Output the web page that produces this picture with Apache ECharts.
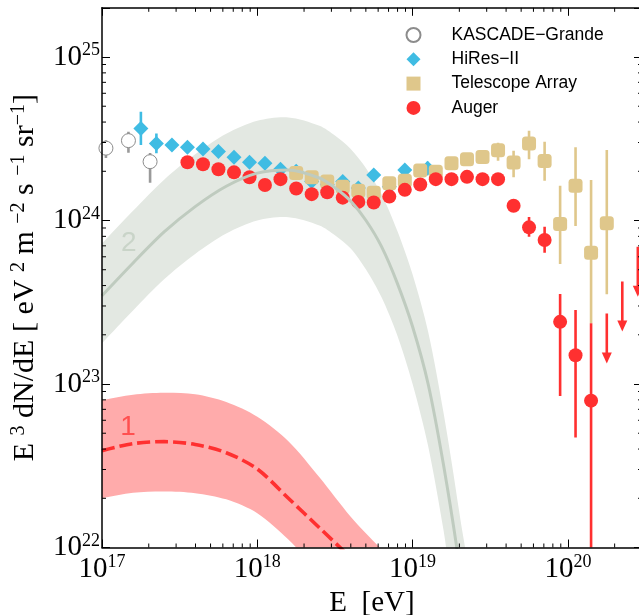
<!DOCTYPE html>
<html>
<head>
<meta charset="utf-8">
<script src="https://cdn.jsdelivr.net/npm/echarts@6/dist/echarts.min.js"></script>
<style>
  html, body { margin: 0; padding: 0; background: #fff; }
  #chart { width: 639px; height: 615px; }
</style>
</head>
<body>
<div id="chart"></div>
<script>
// ---- measured spectra: E [eV], E^3 dN/dE [eV^2 m^-2 s^-1 sr^-1] ----
const kascadeE  = [1.06e17, 1.48e17, 2.04e17];
const kascadeF  = [2.77e24, 3.08e24, 2.29e24];
const kascadeLo = [2.41e24, 2.60e24, 1.70e24];
const kascadeHi = [3.10e24, 3.49e24, 2.59e24];

const hiresE  = [1.78e17, 2.24e17, 2.82e17, 3.55e17, 4.47e17, 5.62e17, 7.08e17, 8.91e17,
                 1.12e18, 1.41e18, 1.78e18, 2.24e18, 2.82e18, 3.55e18, 4.47e18, 5.62e18,
                 7.08e18, 8.91e18, 1.25e19];
const hiresF  = [3.66e24, 2.96e24, 2.90e24, 2.81e24, 2.74e24, 2.64e24, 2.44e24, 2.27e24,
                 2.24e24, 2.06e24, 2.00e24, 1.73e24, 1.66e24, 1.73e24, 1.58e24, 1.90e24,
                 1.61e24, 2.04e24, 2.09e24];
const hiresLo = [2.90e24, 2.58e24, null, null, null, null, null, null,
                 null, null, null, null, null, null, null, null,
                 null, null, 1.95e24];
const hiresHi = [4.63e24, 3.41e24, null, null, null, null, null, null,
                 null, null, null, null, null, null, null, null,
                 null, null, 2.29e24];

const taE  = [1.78e18, 2.24e18, 2.82e18, 3.55e18, 4.47e18, 5.62e18, 7.08e18, 8.91e18,
              1.12e19, 1.41e19, 1.78e19, 2.24e19, 2.82e19, 3.55e19, 4.47e19, 5.62e19,
              7.08e19, 8.91e19, 1.12e20, 1.41e20, 1.78e20];
const taF  = [1.95e24, 1.84e24, 1.73e24, 1.61e24, 1.52e24, 1.48e24, 1.69e24, 1.75e24,
              2.02e24, 1.99e24, 2.24e24, 2.37e24, 2.45e24, 2.69e24, 2.26e24, 2.96e24,
              2.31e24, 9.53e23, 1.63e24, 6.35e23, 9.62e23];
const taLo = [null, null, null, null, null, null, null, null,
              1.92e24, 1.90e24, 2.13e24, 2.24e24, 2.22e24, 2.32e24, 1.84e24, 2.37e24,
              1.75e24, 5.42e23, 9.25e23, 2.35e23, 3.54e23];
const taHi = [null, null, null, null, null, null, null, null,
              2.12e24, 2.09e24, 2.36e24, 2.51e24, 2.69e24, 2.99e24, 2.67e24, 3.54e24,
              3.03e24, 1.63e24, 2.81e24, 1.77e24, 2.70e24];

const augerE  = [3.55e17, 4.47e17, 5.62e17, 7.08e17, 8.91e17, 1.12e18, 1.41e18, 1.78e18,
                 2.24e18, 2.82e18, 3.55e18, 4.47e18, 5.62e18, 7.08e18, 8.91e18, 1.12e19,
                 1.41e19, 1.78e19, 2.24e19, 2.82e19, 3.55e19, 4.47e19, 5.62e19, 7.08e19,
                 8.91e19, 1.12e20, 1.41e20];
const augerF  = [2.27e24, 2.21e24, 2.06e24, 1.97e24, 1.84e24, 1.65e24, 1.79e24, 1.57e24,
                 1.45e24, 1.49e24, 1.38e24, 1.30e24, 1.29e24, 1.40e24, 1.54e24, 1.66e24,
                 1.79e24, 1.79e24, 1.85e24, 1.79e24, 1.79e24, 1.23e24, 9.08e23, 7.60e23,
                 2.40e23, 1.50e23, 7.91e22];
const augerLo = [null, null, null, null, null, null, null, null,
                 null, null, null, null, null, null, null, null,
                 null, null, null, null, null, null, 7.96e23, 6.35e23,
                 8.45e22, 4.70e22, 1.0e21];
const augerHi = [null, null, null, null, null, null, null, null,
                 null, null, null, null, null, null, null, null,
                 null, null, null, null, null, null, 1.05e24, 9.16e23,
                 3.55e23, 2.84e23, 2.35e23];

// Auger upper limits
const augerUlE = [1.78e20, 2.24e20, 2.82e20];
const augerUlF = [2.70e23, 4.23e23, 6.92e23];

// ---- model 1 (light component): central curve and uncertainty band ----
const m1E   = [1.0e17, 1.585e17, 2.512e17, 3.981e17, 6.31e17, 1.0e18, 1.585e18, 2.512e18, 3.981e18, 5.012e18];
const m1F   = [3.91e22, 4.32e22, 4.44e22, 4.27e22, 3.80e22, 3.02e22, 2.0e22, 1.32e22, 8.7e21, 7.1e21];
const m1UpE = [0.9e17, 1.0e17, 1.585e17, 2.512e17, 3.981e17, 6.31e17, 1.0e18, 1.585e18, 2.512e18, 3.981e18, 6.15e18, 7.943e18];
const m1UpF = [7.8e22, 7.98e22, 8.61e22, 8.85e22, 8.65e22, 7.76e22, 6.31e22, 4.47e22, 2.69e22, 1.55e22, 1.0e22, 7.94e21];
const m1LoE = [0.9e17, 1.0e17, 1.585e17, 2.512e17, 3.981e17, 6.31e17, 1.0e18, 1.585e18, 1.995e18, 2.512e18];
const m1LoF = [1.97e22, 2.0e22, 2.16e22, 2.20e22, 2.15e22, 1.97e22, 1.62e22, 1.12e22, 8.9e21, 7.1e21];

// ---- model 2 (heavier component): central curve and uncertainty band ----
const m2E   = [1.0e17, 1.585e17, 2.512e17, 3.981e17, 6.31e17, 1.0e18, 1.585e18, 2.512e18, 3.162e18,
               3.981e18, 5.012e18, 6.31e18, 7.943e18, 1.0e19, 1.259e19, 1.585e19, 1.995e19, 2.512e19];
const m2F   = [3.47e23, 5.50e23, 8.51e23, 1.216e24, 1.62e24, 1.95e24, 2.04e24, 1.82e24, 1.585e24,
               1.318e24, 1.0e24, 6.92e23, 4.17e23, 2.24e23, 1.0e23, 3.16e22, 7.94e21, 1.58e21];
const m2UpE = [0.794e17, 1.0e17, 1.585e17, 2.512e17, 3.981e17, 6.31e17, 1.0e18, 1.585e18, 2.512e18, 3.162e18,
               3.981e18, 5.012e18, 6.31e18, 7.943e18, 1.0e19, 1.259e19, 1.585e19, 1.995e19, 2.512e19];
const m2UpF = [5.75e23, 7.24e23, 1.148e24, 1.778e24, 2.54e24, 3.39e24, 4.07e24, 4.27e24, 3.80e24, 3.31e24,
               2.75e24, 2.09e24, 1.445e24, 8.71e23, 4.68e23, 2.09e23, 6.61e22, 1.66e22, 3.31e21];
const m2LoE = [0.794e17, 1.0e17, 1.585e17, 2.512e17, 3.981e17, 6.31e17, 1.0e18, 1.585e18, 2.512e18, 3.162e18,
               3.981e18, 5.012e18, 6.31e18, 7.943e18, 1.0e19, 1.259e19, 1.585e19, 1.995e19];
const m2LoF = [1.41e23, 1.778e23, 2.82e23, 4.37e23, 6.24e23, 8.32e23, 1.0e24, 1.047e24, 9.33e23, 8.13e23,
               6.76e23, 5.01e23, 3.39e23, 2.0e23, 1.0e23, 4.17e22, 1.26e22, 3.16e21];

// labels on the model curves
const modelTags = [
  { text: '1', E: 1.47e17, F: 5.46e22, color: '#ff3a3a' },
  { text: '2', E: 1.49e17, F: 7.28e23, color: '#c2cec2' }
];

const X_MIN = 1e17, X_MAX = 3e20, Y_MIN = 1e22, Y_MAX = 2e25;

const SERIF = '"Liberation Serif", "Times New Roman", serif';
const SANS  = '"Liberation Sans", Arial, sans-serif';

const C_KASCADE = '#8c8c8c';
const C_HIRES   = '#3fbce3';
const C_TA      = '#dfc78b';
const C_AUGER   = '#ff3030';

// minor tick positions (2..9 within each decade) inside the axis ranges
function minorTicks(lo, hi) {
  const out = [];
  for (let d = Math.floor(Math.log10(lo)); d <= Math.ceil(Math.log10(hi)); d++) {
    for (let k = 2; k <= 9; k++) {
      const v = k * Math.pow(10, d);
      if (v > lo && v < hi) out.push(v);
    }
  }
  return out;
}

function pow10Label(value) {
  const lg = Math.log10(value);
  const n = Math.round(lg);
  if (Math.abs(lg - n) > 1e-6) return '';
  return '{b|10}{s|' + n + '}';
}

const tickRich = {
  b: { fontFamily: SERIF, fontSize: 29, color: '#000' },
  s: { fontFamily: SERIF, fontSize: 18, color: '#000', padding: [0, 0, 13, 0] }
};

function pairs(xs, ys) { return xs.map((x, i) => [x, ys[i]]); }

function errorBars(name, xs, lo, hi, color, width) {
  const data = [];
  xs.forEach((x, i) => { if (lo[i] != null && hi[i] != null) data.push([x, lo[i], hi[i]]); });
  return {
    type: 'custom', name: name, silent: true, clip: true,
    data: data, encode: { x: 0, y: [1, 2] },
    renderItem: function (params, api) {
      const a = api.coord([api.value(0), api.value(1)]);
      const b = api.coord([api.value(0), api.value(2)]);
      return { type: 'line', shape: { x1: a[0], y1: a[1], x2: b[0], y2: b[1] },
               style: { stroke: color, lineWidth: width } };
    }
  };
}

function band(name, upE, upF, loE, loF, color) {
  return {
    type: 'custom', name: name, silent: true, clip: true,
    data: [[upE[0], upF[0]]],
    renderItem: function (params, api) {
      const pts = [];
      upE.forEach((e, i) => pts.push(api.coord([e, upF[i]])));
      for (let i = loE.length - 1; i >= 0; i--) pts.push(api.coord([loE[i], loF[i]]));
      return { type: 'polygon', shape: { points: pts, smooth: 0.3 },
               style: { fill: color, stroke: null } };
    }
  };
}

const chart = echarts.init(document.getElementById('chart'), null, { renderer: 'canvas' });

const axisLineStyle = { color: '#000', width: 1.5 };

const option = {
  animation: false,
  backgroundColor: '#fff',
  grid: { left: 102, right: -3, top: 7.8, bottom: 67.5, containLabel: false, outerBoundsMode: 'none' },
  legend: {
    orient: 'vertical', left: 400.5, top: 21,
    itemWidth: 14, itemHeight: 14, itemGap: 6.3,
    data: [
      { name: 'KASCADE\u2212Grande', icon: 'circle' },
      { name: 'HiRes\u2212II', icon: 'diamond' },
      { name: 'Telescope Array', icon: 'rect' },
      { name: 'Auger', icon: 'circle' }
    ],
    formatter: function (n) { return '{t|' + n + '}'; },
    textStyle: {
      color: '#000',
      rich: { t: { fontFamily: SANS, fontSize: 17.5, color: '#000', lineHeight: 14, padding: [0, 0, 0, 26] } }
    }
  },
  xAxis: [
    {
      type: 'log', logBase: 10, min: X_MIN, max: X_MAX, position: 'bottom', z: 10,
      name: 'E  [eV]', nameLocation: 'middle', nameGap: 36,
      nameTextStyle: { fontFamily: SERIF, fontSize: 29, color: '#000' },
      axisLine: { show: true, lineStyle: axisLineStyle },
      axisTick: { show: true, inside: true, length: 8, lineStyle: { color: '#000', width: 1 } },
      axisLabel: { show: true, margin: 6, formatter: pow10Label, rich: tickRich },
      splitLine: { show: false }
    },
    {
      type: 'log', logBase: 10, min: X_MIN, max: X_MAX, position: 'top', z: 10,
      axisLine: { show: true, lineStyle: axisLineStyle },
      axisTick: { show: true, inside: true, length: 8, lineStyle: { color: '#000', width: 1 } },
      axisLabel: { show: false }, splitLine: { show: false }
    }
  ],
  yAxis: [
    {
      type: 'log', logBase: 10, min: Y_MIN, max: Y_MAX, position: 'left', z: 10,
      name: '{n|E }{s|3}{n| dN/dE [ eV }{s|2}{n| m }{s|\u22122}{n| s }{s|\u22121}{n| sr}{s|\u22121}{n|]}',
      nameLocation: 'middle', nameGap: 60, nameRotate: 90,
      nameTextStyle: {
        rich: {
          n: { fontFamily: SERIF, fontSize: 30, color: '#000' },
          s: { fontFamily: SERIF, fontSize: 20, color: '#000', padding: [0, 0, 13, 0] }
        }
      },
      axisLine: { show: true, lineStyle: axisLineStyle },
      axisTick: { show: true, inside: true, length: 8, lineStyle: { color: '#000', width: 1 } },
      axisLabel: { show: true, margin: 2, formatter: pow10Label, rich: tickRich },
      splitLine: { show: false }
    },
    {
      type: 'log', logBase: 10, min: Y_MIN, max: Y_MAX, position: 'right', z: 10,
      axisLine: { show: true, lineStyle: axisLineStyle },
      axisTick: { show: true, inside: true, length: 8, lineStyle: { color: '#000', width: 1 } },
      axisLabel: { show: false }, splitLine: { show: false }
    }
  ],
  series: [
    band('band 2', m2UpE, m2UpF, m2LoE, m2LoF, '#e3e8e2'),
    band('band 1', m1UpE, m1UpF, m1LoE, m1LoF, '#ffabab'),
    {
      type: 'line', name: 'model 2', data: pairs(m2E, m2F), smooth: 0.3, symbol: 'none', clip: true,
      silent: true, lineStyle: { color: '#bfcbbf', width: 3 }
    },
    {
      type: 'line', name: 'model 1', data: pairs(m1E, m1F), smooth: 0.3, symbol: 'none', clip: true,
      silent: true, lineStyle: { color: '#ff3030', width: 3.6, type: [13, 5] }
    },
    {
      type: 'scatter', name: 'tags', silent: true, symbolSize: 0,
      data: modelTags.map(t => ({ value: [t.E, t.F], label: {
        show: true, position: 'inside', formatter: t.text,
        fontFamily: SANS, fontSize: 28, color: t.color } }))
    },
    errorBars('KASCADE err', kascadeE, kascadeLo, kascadeHi, '#9a9a9a', 2.6),
    {
      type: 'scatter', name: 'KASCADE\u2212Grande', data: pairs(kascadeE, kascadeF),
      symbol: 'circle', symbolSize: 14,
      itemStyle: { color: '#fff', borderColor: C_KASCADE, borderWidth: 1, opacity: 1 }
    },
    errorBars('HiRes err', hiresE, hiresLo, hiresHi, C_HIRES, 2.6),
    {
      type: 'scatter', name: 'HiRes\u2212II', data: pairs(hiresE, hiresF),
      symbol: 'diamond', symbolSize: 15, itemStyle: { color: C_HIRES, opacity: 1 }
    },
    errorBars('TA err', taE, taLo, taHi, C_TA, 2.6),
    {
      type: 'scatter', name: 'Telescope Array', data: pairs(taE, taF),
      symbol: 'roundRect', symbolSize: 14, itemStyle: { color: C_TA, opacity: 1 }
    },
    errorBars('Auger err', augerE, augerLo, augerHi, C_AUGER, 2.6),
    {
      type: 'scatter', name: 'Auger', data: pairs(augerE, augerF),
      symbol: 'circle', symbolSize: 14, itemStyle: { color: C_AUGER, opacity: 1 }
    },
    {
      // upper limits: arrow hanging from the limit value
      type: 'custom', name: 'Auger limits', silent: true, clip: true,
      data: pairs(augerUlE, augerUlF),
      renderItem: function (params, api) {
        const p = api.coord([api.value(0), api.value(1)]);
        const len = 50, hw = 5, hh = 11;
        return { type: 'group', children: [
          { type: 'line', shape: { x1: p[0], y1: p[1], x2: p[0], y2: p[1] + len - hh + 1 },
            style: { stroke: C_AUGER, lineWidth: 2.6 } },
          { type: 'polygon', shape: { points: [[p[0] - hw, p[1] + len - hh], [p[0] + hw, p[1] + len - hh], [p[0], p[1] + len]] },
            style: { fill: C_AUGER } }
        ] };
      }
    },
    {
      // minor ticks on bottom and top frame
      type: 'custom', name: 'x minor', silent: true, z: 10, clip: false,
      data: minorTicks(X_MIN, X_MAX).map(v => [v, 1e23]),
      renderItem: function (params, api) {
        const p = api.coord([api.value(0), api.value(1)]);
        const cs = params.coordSys;
        const st = { stroke: '#000', lineWidth: 1 };
        return { type: 'group', children: [
          { type: 'line', shape: { x1: p[0], y1: cs.y + cs.height, x2: p[0], y2: cs.y + cs.height - 4 }, style: st },
          { type: 'line', shape: { x1: p[0], y1: cs.y, x2: p[0], y2: cs.y + 4 }, style: st }
        ] };
      }
    },
    {
      // minor ticks on left and right frame
      type: 'custom', name: 'y minor', silent: true, z: 10, clip: false,
      data: minorTicks(Y_MIN, Y_MAX).map(v => [1e18, v]),
      renderItem: function (params, api) {
        const p = api.coord([api.value(0), api.value(1)]);
        const cs = params.coordSys;
        const st = { stroke: '#000', lineWidth: 1 };
        return { type: 'group', children: [
          { type: 'line', shape: { x1: cs.x, y1: p[1], x2: cs.x + 4, y2: p[1] }, style: st },
          { type: 'line', shape: { x1: cs.x + cs.width, y1: p[1], x2: cs.x + cs.width - 4, y2: p[1] }, style: st }
        ] };
      }
    }
  ]
};

chart.setOption(option);
</script>
</body>
</html>
